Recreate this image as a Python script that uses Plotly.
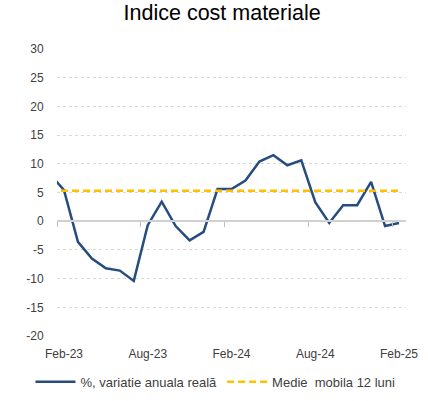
import plotly.graph_objects as go

# months Jan-23 .. Feb-25 (Jan-23 sits just outside the left edge, as in the source)
months = ["Jan-23", "Feb-23", "Mar-23", "Apr-23", "May-23", "Jun-23", "Jul-23", "Aug-23",
          "Sep-23", "Oct-23", "Nov-23", "Dec-23", "Jan-24", "Feb-24", "Mar-24", "Apr-24",
          "May-24", "Jun-24", "Jul-24", "Aug-24", "Sep-24", "Oct-24", "Nov-24", "Dec-24",
          "Jan-25", "Feb-25"]
variatie = [8.2, 5.4, -3.6, -6.5, -8.2, -8.6, -10.4, -0.7, 3.4, -0.85, -3.35, -1.85,
            5.6, 5.6, 7.1, 10.4, 11.5, 9.75, 10.6, 3.3, -0.3, 2.8, 2.8, 6.85, -0.85, -0.3]
medie_12 = [5.3] * len(months)

tick_labels = ["Feb-23", "Aug-23", "Feb-24", "Aug-24", "Feb-25"]
y_ticks = list(range(-20, 31, 5))

idx = list(range(-1, len(months) - 1))  # Feb-23 -> 0
tick_pos = [months.index(t) - 1 for t in tick_labels]
bounds = [p - 0.5 for p in tick_pos]
xr = [-0.5, 24.5]

font = "Liberation Sans, Arial, sans-serif"

fig = go.Figure()

# helper trace so the zero-line axis (with its tick marks) gets drawn
fig.add_trace(go.Scatter(
    x=[idx[1], idx[-1]], y=[0, 0], xaxis="x2", mode="lines",
    line=dict(width=0), showlegend=False, hoverinfo="skip",
))

fig.add_trace(go.Scatter(
    x=idx, y=variatie,
    name="%, variatie anuala reală",
    mode="lines",
    line=dict(color="#264C80", width=2.5),
))

fig.add_trace(go.Scatter(
    x=idx, y=medie_12,
    name="Medie  mobila 12 luni",
    mode="lines",
    line=dict(color="#FFC000", width=2.5, dash="7px,4px"),
))

ymin, ymax = -20, 30

fig.update_layout(
    width=428, height=401,
    paper_bgcolor="white", plot_bgcolor="white",
    font=dict(family=font, size=12, color="#404040"),
    title=dict(text="Indice cost materiale", x=0.519, xanchor="center", y=0.968, yanchor="middle",
               font=dict(family=font, size=21.5, color="#000000")),
    margin=dict(l=57, r=22, t=49, b=65, autoexpand=False),
    showlegend=True,
    legend=dict(orientation="h", x=-0.076, xanchor="left",
                y=-0.16, yanchor="middle",
                font=dict(size=13, color="#404040"), itemwidth=40, traceorder="normal"),
    xaxis=dict(
        range=xr, automargin=False,
        tickvals=tick_pos, ticktext=tick_labels,
        showgrid=False, zeroline=False, showline=False,
        ticks="outside", ticklen=7, tickcolor="rgba(0,0,0,0)",
        tickfont=dict(size=12, color="#404040"),
    ),
    xaxis2=dict(
        overlaying="x", anchor="free", range=xr, automargin=False,
        position=(0 - ymin) / (ymax - ymin),
        tickvals=bounds, showticklabels=False,
        ticks="outside", ticklen=5, tickcolor="#BFBFBF", tickwidth=1,
        showline=True, linecolor="#D0D0D0", linewidth=1.5,
        showgrid=False, zeroline=False,
    ),
    yaxis=dict(
        range=[ymin, ymax], automargin=False,
        tickvals=y_ticks, ticktext=[str(v) for v in y_ticks],
        showgrid=True, gridcolor="#D9D9D9", griddash="dot", gridwidth=1,
        zeroline=True, zerolinecolor="#D0D0D0", zerolinewidth=1.5,
        showline=False,
        ticks="outside", ticklen=10, tickcolor="rgba(0,0,0,0)",
        tickfont=dict(size=12, color="#404040"),
    ),
)

fig.write_html("out.html", config={"displayModeBar": False},
               post_script="document.body.style.margin='0';")
